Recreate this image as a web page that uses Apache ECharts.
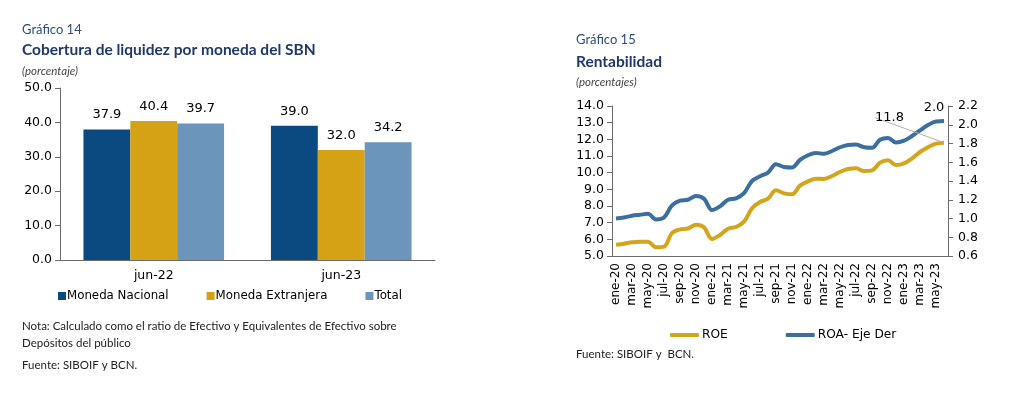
<!DOCTYPE html>
<html><head><meta charset="utf-8">
<script src="https://cdn.jsdelivr.net/npm/echarts@6/dist/echarts.min.js"></script>
<style>html,body{margin:0;padding:0;background:#fff}#c{width:1017px;height:393px}</style>
</head><body><div id="c"></div>
<script>
// ---- Gráfico 14 data ----
const barCategories = ['jun-22', 'jun-23'];
const monedaNacional = [37.9, 39.0];
const monedaExtranjera = [40.4, 32.0];
const totalCob = [39.7, 34.2];
// ---- Gráfico 15 data ----
const months = [
 'ene-20','feb-20','mar-20','abr-20','may-20','jun-20','jul-20','ago-20','sep-20','oct-20','nov-20','dic-20',
 'ene-21','feb-21','mar-21','abr-21','may-21','jun-21','jul-21','ago-21','sep-21','oct-21','nov-21','dic-21',
 'ene-22','feb-22','mar-22','abr-22','may-22','jun-22','jul-22','ago-22','sep-22','oct-22','nov-22','dic-22',
 'ene-23','feb-23','mar-23','abr-23','may-23','jun-23'];
const roe = [5.68,5.74,5.82,5.86,5.86,5.52,5.56,6.38,6.6,6.65,6.88,6.72,
 6.02,6.26,6.64,6.74,7.06,7.86,8.24,8.44,8.94,8.76,8.7,9.22,
 9.48,9.64,9.62,9.8,10.04,10.22,10.26,10.1,10.14,10.6,10.74,10.46,
 10.56,10.86,11.24,11.53,11.74,11.8];
const roa = [1.0,1.01,1.03,1.04,1.05,0.99,1.01,1.14,1.19,1.2,1.24,1.21,
 1.09,1.13,1.2,1.215,1.27,1.4,1.45,1.49,1.58,1.55,1.545,1.625,
 1.675,1.7,1.69,1.72,1.76,1.785,1.79,1.76,1.755,1.84,1.86,1.81,
 1.83,1.88,1.94,1.997,2.035,2.04];
const leftTicks = {min: 0, max: 50, interval: 10};
const roeTicks = {min: 5, max: 14, interval: 1};
const roaTicks = {min: 0.6, max: 2.2, interval: 0.2};

const C_MN = '#0b4a80', C_ME = '#d6a215', C_TOT = '#6b95ba';
const C_ROE = '#d4a41d', C_ROA = '#3a6fa0';
const AX = '#6b6b6b';
const numFont = 'DejaVu Sans';
const txtFont = 'Lato';
const last = months.length - 1;

const chart = echarts.init(document.getElementById('c'), null, {renderer: 'canvas'});
const t = (text, left, top, style) => ({text, left: left - 5, top: top - 5, textStyle: Object.assign({fontFamily: txtFont, fontWeight: 'normal'}, style)});
const endPoint = (v, i, labelOpt) => i === last
  ? {value: v, label: Object.assign({show: true}, labelOpt)}
  : v;
chart.setOption({
  animation: false,
  title: [
    t('Gráfico 14', 22, 23, {fontSize: 13, color: '#2e4d7b'}),
    t('Cobertura de liquidez por moneda del SBN', 22, 42, {fontSize: 15.5, fontWeight: 'bold', color: '#1f3a68'}),
    t('(porcentaje)', 22, 65, {fontSize: 11.5, fontStyle: 'italic', color: '#444'}),
    t('Nota: Calculado como el ratio de Efectivo y Equivalentes de Efectivo sobre', 22, 320, {fontSize: 11.5, color: '#222'}),
    t('Depósitos del público', 22, 337, {fontSize: 11.5, color: '#222'}),
    t('Fuente: SIBOIF y BCN.', 22, 359, {fontSize: 11.5, color: '#222'}),
    t('Gráfico 15', 576, 33, {fontSize: 13, color: '#2e4d7b'}),
    t('Rentabilidad', 576, 54, {fontSize: 15.5, fontWeight: 'bold', color: '#1f3a68'}),
    t('(porcentajes)', 576, 76, {fontSize: 11.5, fontStyle: 'italic', color: '#444'}),
    t('Fuente: SIBOIF y  BCN.', 576, 348, {fontSize: 11.5, color: '#222'})
  ],
  legend: [
    {left: 53, top: 285, itemWidth: 8, itemHeight: 8, itemGap: 38, icon: 'rect',
     data: ['Moneda Nacional', 'Moneda Extranjera', 'Total'],
     textStyle: {fontFamily: numFont, fontSize: 11.8, color: '#000', padding: [0, 0, 0, -4]}},
    {left: 665, top: 324, itemWidth: 29, itemHeight: 4, itemGap: 58, icon: 'roundRect',
     data: ['ROE', 'ROA- Eje Der'],
     textStyle: {fontFamily: numFont, fontSize: 12.2, color: '#000', padding: [0, 0, 0, -2]}}
  ],
  grid: [
    {left: 60, top: 88, width: 375, height: 172, containLabel: false},
    {left: 612, top: 106, width: 336, height: 150, containLabel: false}
  ],
  xAxis: [
    {type: 'category', gridIndex: 0, data: barCategories,
     axisLine: {lineStyle: {color: AX}}, axisTick: {length: 5, lineStyle: {color: AX}},
     axisLabel: {fontFamily: numFont, fontSize: 12.5, color: '#000', margin: 9}},
    {type: 'category', gridIndex: 1, data: months,
     axisLine: {lineStyle: {color: AX}}, axisTick: {interval: 0, length: 4, lineStyle: {color: AX}},
     axisLabel: {interval: 1, rotate: 90, fontFamily: numFont, fontSize: 12, color: '#000', margin: 7}}
  ],
  yAxis: [
    {type: 'value', gridIndex: 0, min: leftTicks.min, max: leftTicks.max, interval: leftTicks.interval,
     axisLine: {show: true, lineStyle: {color: AX}}, axisTick: {show: true, length: 5, lineStyle: {color: AX}},
     splitLine: {show: false},
     axisLabel: {fontFamily: numFont, fontSize: 12.5, color: '#000', margin: 8, formatter: v => v.toFixed(1)}},
    {type: 'value', gridIndex: 1, min: roeTicks.min, max: roeTicks.max, interval: roeTicks.interval,
     axisLine: {show: true, lineStyle: {color: AX}}, axisTick: {show: true, length: 5, lineStyle: {color: AX}},
     splitLine: {show: false},
     axisLabel: {fontFamily: numFont, fontSize: 12.5, color: '#000', margin: 8, formatter: v => v.toFixed(1)}},
    {type: 'value', gridIndex: 1, position: 'right', min: roaTicks.min, max: roaTicks.max, interval: roaTicks.interval,
     axisLine: {show: true, lineStyle: {color: AX}}, axisTick: {show: true, length: 5, lineStyle: {color: AX}},
     splitLine: {show: false},
     axisLabel: {fontFamily: numFont, fontSize: 12.5, color: '#000', margin: 10, formatter: v => v.toFixed(1)}}
  ],
  series: [
    ...[['Moneda Nacional', monedaNacional, C_MN], ['Moneda Extranjera', monedaExtranjera, C_ME], ['Total', totalCob, C_TOT]]
      .map(([name, d, c]) => ({
        name, type: 'bar', xAxisIndex: 0, yAxisIndex: 0, data: d, barGap: 0, barCategoryGap: '25%',
        itemStyle: {color: c},
        label: {show: true, position: 'top', distance: 8, fontFamily: numFont, fontSize: 13, color: '#000',
                formatter: p => p.value.toFixed(1)}
      })),
    {name: 'ROE', type: 'line', xAxisIndex: 1, yAxisIndex: 1, smooth: 0.35,
     symbol: 'circle', symbolSize: 0, showSymbol: true, showAllSymbol: true,
     lineStyle: {width: 4, color: C_ROE}, itemStyle: {color: C_ROE},
     data: roe.map((v, i) => endPoint(v, i, {position: 'left', distance: 4})),
     label: {show: false, fontFamily: numFont, fontSize: 13, color: '#000',
             formatter: p => p.value.toFixed(1)},
     labelLayout: p => p.dataIndex === last ? {dx: -36, dy: -25} : {},
     labelLine: {show: true, length2: 5, lineStyle: {color: '#b0b0b0', width: 1}}},
    {name: 'ROA- Eje Der', type: 'line', xAxisIndex: 1, yAxisIndex: 2, smooth: 0.35,
     symbol: 'circle', symbolSize: 0, showSymbol: true, showAllSymbol: true,
     lineStyle: {width: 4, color: C_ROA}, itemStyle: {color: C_ROA},
     data: roa.map((v, i) => endPoint(v, i, {position: 'top', offset: [-10, 0], distance: 7})),
     label: {show: false, fontFamily: numFont, fontSize: 13, color: '#000',
             formatter: p => p.value.toFixed(1)}}
  ]
});
</script></body></html>
